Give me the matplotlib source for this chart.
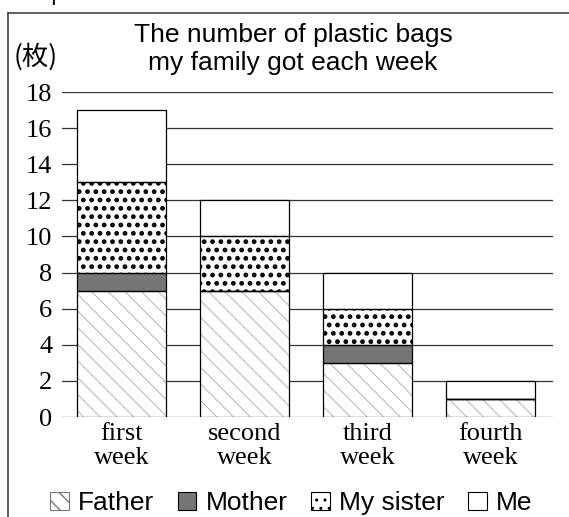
import matplotlib
matplotlib.use("Agg")
from matplotlib import pyplot as plt
from matplotlib.patches import Patch
from matplotlib.lines import Line2D

weeks = ["first\nweek", "second\nweek", "third\nweek", "fourth\nweek"]
father = [7, 7, 3, 1]
mother = [1, 0, 1, 0]
sister = [5, 3, 2, 0]
me = [4, 2, 2, 1]
labels = ["Father", "Mother", "My sister", "Me"]

styles = [
    dict(facecolor="white", hatch="\\\\", edgecolor="#a8a8a8", hlw=0.6),
    dict(facecolor="#767676", hatch="", edgecolor="#767676", hlw=0.6),
    dict(facecolor="white", hatch="..", edgecolor="black", hlw=2.2),
    dict(facecolor="white", hatch="", edgecolor="black", hlw=0.6),
]

fig = plt.figure(figsize=(5.69, 5.17), dpi=100)
ax = fig.add_axes([62 / 569, 100 / 517, 491 / 569, 325 / 517])

x = range(len(weeks))
bottom = [0] * len(weeks)
for vals, st in zip([father, mother, sister, me], styles):
    with plt.rc_context({"hatch.linewidth": st["hlw"]}):
        ax.bar(x, vals, 0.72, bottom=bottom, color=st["facecolor"], hatch=st["hatch"],
               edgecolor=st["edgecolor"], linewidth=0, zorder=2)
    ax.bar(x, vals, 0.72, bottom=bottom, fill=False, edgecolor="black", linewidth=0.9, zorder=3)
    bottom = [b + v for b, v in zip(bottom, vals)]

ax.set_xlim(-0.484, 3.51)
ax.set_ylim(0, 18)
ax.set_yticks(range(0, 19, 2))
ax.set_xticks(list(x))
ax.set_xticklabels(weeks, family="Liberation Serif", fontsize=19, linespacing=1.12)
for t in ax.get_yticklabels():
    t.set_family("Liberation Serif")
    t.set_fontsize(19)
ax.tick_params(axis="both", length=0)
ax.tick_params(axis="y", pad=7)
ax.tick_params(axis="x", pad=4)
for s in ax.spines.values():
    s.set_visible(False)
ax.yaxis.grid(True, color="#333333", linewidth=0.9)
ax.set_axisbelow(True)

fig.text(0.515, 1 - 49 / 517, "The number of plastic bags\nmy family got each week",
         ha="center", va="center", fontsize=19, family="Liberation Sans", linespacing=1.18)
fig.text(14 / 569, 1 - 57 / 517, "(枚)", ha="left", va="center", fontsize=19,
         family=["Noto Sans CJK JP", "DejaVu Sans"])
fig.text(12 / 569, 1 - 5 / 517, "Graph 2", ha="left", va="bottom", fontsize=17,
         family="Liberation Sans")

# frame around the graph
fig.add_artist(Line2D([8 / 569, 1], [1 - 13 / 517] * 2, color="#444444", linewidth=1.2))
fig.add_artist(Line2D([8 / 569] * 2, [0, 1 - 13 / 517], color="#444444", linewidth=1.2))

handles = []
for st in styles:
    with plt.rc_context({"hatch.linewidth": st["hlw"]}):
        handles.append(Patch(facecolor=st["facecolor"], hatch=st["hatch"],
                             edgecolor="black", linewidth=0.8))
with plt.rc_context({"hatch.linewidth": 0.6}):
    handles[0] = Patch(facecolor="white", hatch="\\\\", edgecolor="#777777", linewidth=0.8)
fig.legend(handles, labels, loc="center", bbox_to_anchor=(0.512, 1 - 503 / 517), ncol=4,
           frameon=False, prop=dict(family="Liberation Sans", size=19),
           handlelength=0.7, handleheight=0.7, handletextpad=0.35, columnspacing=0.9)

fig.savefig("out.png", dpi=100)
